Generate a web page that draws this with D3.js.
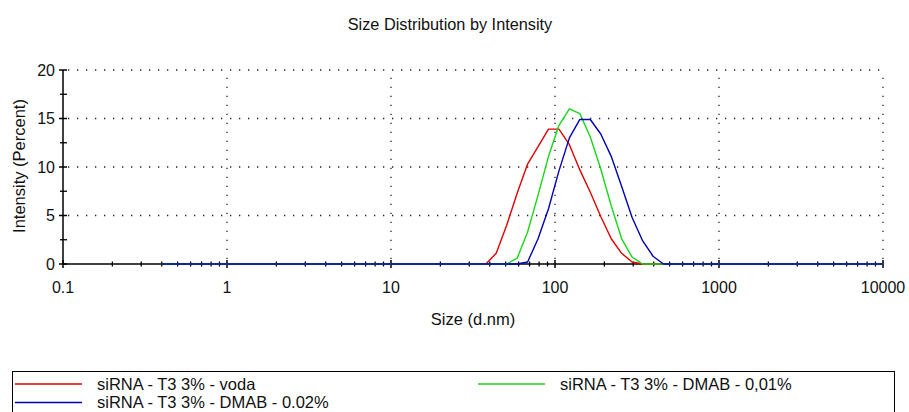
<!DOCTYPE html>
<html>
<head>
<meta charset="utf-8">
<script src="https://cdn.jsdelivr.net/npm/d3@7"></script>
<style>
  html, body { margin: 0; padding: 0; background: #fff; }
  svg { display: block; font-family: "Liberation Sans", Arial, sans-serif; }
</style>
</head>
<body>
<svg id="chart" width="909" height="412"></svg>
<script>
// Zetasizer size bins (d.nm)
const sizes = [0.4, 0.4632, 0.5365, 0.6213, 0.7195, 0.8332, 0.9649, 1.117, 1.294, 1.499,
  1.736, 2.01, 2.328, 2.696, 3.122, 3.615, 4.187, 4.849, 5.615, 6.503,
  7.531, 8.721, 10.1, 11.7, 13.54, 15.69, 18.17, 21.04, 24.36, 28.21,
  32.67, 37.84, 43.82, 50.75, 58.77, 68.06, 78.82, 91.28, 105.7, 122.4,
  141.8, 164.2, 190.1, 220.2, 255, 295.3, 342, 396.1, 458.7, 531.2,
  615.1, 712.4, 825, 955.4, 1106, 1281, 1484, 1718, 1990, 2305,
  2669, 3091, 3580, 4145, 4801, 5560, 6439, 7456, 8635, 10000];

// Intensity (%) per bin
const voda = [0,0,0,0,0,0,0,0,0,0, 0,0,0,0,0,0,0,0,0,0, 0,0,0,0,0,0,0,0,0,0,
  0, 0, 1.1, 4.0, 7.3, 10.3, 12.1, 13.9, 13.9, 12.3,
  9.7, 7.4, 4.9, 2.6, 1.1, 0.2, 0, 0, 0, 0,
  0,0,0,0,0,0,0,0,0,0, 0,0,0,0,0,0,0,0,0,0];
const dmab001 = [0,0,0,0,0,0,0,0,0,0, 0,0,0,0,0,0,0,0,0,0, 0,0,0,0,0,0,0,0,0,0,
  0, 0, 0, 0, 0.6, 3.3, 7.1, 11.1, 14.3, 16.0,
  15.5, 13.1, 9.8, 6.0, 2.6, 0.7, 0, 0, 0, 0,
  0,0,0,0,0,0,0,0,0,0, 0,0,0,0,0,0,0,0,0,0];
const dmab002 = [0,0,0,0,0,0,0,0,0,0, 0,0,0,0,0,0,0,0,0,0, 0,0,0,0,0,0,0,0,0,0,
  0, 0, 0, 0, 0, 0.2, 2.6, 5.7, 9.6, 13.0,
  14.9, 14.9, 13.4, 11.1, 8.0, 4.8, 2.4, 0.8, 0, 0,
  0,0,0,0,0,0,0,0,0,0, 0,0,0,0,0,0,0,0,0,0];

const seriesNames = ["siRNA - T3 3% - voda", "siRNA - T3 3% - DMAB - 0,01%", "siRNA - T3 3% - DMAB - 0.02%"];
const seriesColors = ["#e00000", "#19d619", "#0000b4"];
const xTicks = [0.1, 1, 10, 100, 1000, 10000];
const xTickLabels = ["0.1", "1", "10", "100", "1000", "10000"];
const yTicks = [0, 5, 10, 15, 20];
const yMinorTicks = [2.5, 7.5, 12.5, 17.5];

const svg = d3.select("#chart");
const x = d3.scaleLog().domain([0.1, 10000]).range([63, 883]);
const y = d3.scaleLinear().domain([0, 20]).range([264, 70]);

// title
svg.append("text").attr("x", 450).attr("y", 30).attr("text-anchor", "middle")
  .attr("font-size", 16.3).attr("fill", "#111").text("Size Distribution by Intensity");

// grid
const grid = svg.append("g").attr("stroke", "#222").attr("stroke-width", 1.3)
  .attr("stroke-dasharray", "1.3,7.7");
grid.selectAll("line.h").data(yTicks.filter(d => d > 0)).join("line")
  .attr("x1", x(0.1) + 5).attr("x2", x(10000)).attr("y1", d => y(d)).attr("y2", d => y(d));
grid.selectAll("line.v").data(xTicks.filter(d => d > 0.1)).join("line")
  .attr("x1", d => x(d)).attr("x2", d => x(d)).attr("y1", y(0) - 5).attr("y2", y(20));

// minor x ticks values
const xMinor = [];
for (let e = -1; e < 4; e++) for (let m = 2; m <= 9; m++) xMinor.push(m * Math.pow(10, e));

// axes
const axisG = svg.append("g").attr("stroke", "#000");
axisG.append("line").attr("x1", x(0.1)).attr("x2", x(10000)).attr("y1", y(0)).attr("y2", y(0)).attr("stroke-width", 1.5);
axisG.append("line").attr("x1", x(0.1)).attr("x2", x(0.1)).attr("y1", y(0)).attr("y2", y(20)).attr("stroke-width", 1.5);
axisG.selectAll("line.xmaj").data(xTicks).join("line")
  .attr("x1", d => x(d)).attr("x2", d => x(d)).attr("y1", y(0) - 4).attr("y2", y(0) + 4).attr("stroke-width", 1.5);
axisG.selectAll("line.xmin").data(xMinor).join("line")
  .attr("x1", d => x(d)).attr("x2", d => x(d)).attr("y1", y(0) - 2.5).attr("y2", y(0) + 2.5).attr("stroke-width", 1.3);
axisG.selectAll("line.ymaj").data(yTicks).join("line")
  .attr("x1", x(0.1) - 4).attr("x2", x(0.1) + 4).attr("y1", d => y(d)).attr("y2", d => y(d)).attr("stroke-width", 1.5);
axisG.selectAll("line.ymin").data(yMinorTicks).join("line")
  .attr("x1", x(0.1) - 3).attr("x2", x(0.1) + 4).attr("y1", d => y(d)).attr("y2", d => y(d)).attr("stroke-width", 1.3);

// tick labels
svg.append("g").selectAll("text").data(xTicks).join("text")
  .attr("x", d => x(d)).attr("y", y(0) + 29).attr("text-anchor", "middle")
  .attr("font-size", 16).attr("fill", "#111").text((d, i) => xTickLabels[i]);
svg.append("g").selectAll("text").data(yTicks).join("text")
  .attr("x", 55).attr("y", d => y(d)).attr("dy", "0.36em").attr("text-anchor", "end")
  .attr("font-size", 16).attr("fill", "#111").text(d => d);

// axis labels
svg.append("text").attr("x", 473).attr("y", 325).attr("text-anchor", "middle")
  .attr("font-size", 16.5).attr("fill", "#111").text("Size (d.nm)");
svg.append("text").attr("transform", "translate(25,166) rotate(-90)").attr("text-anchor", "middle")
  .attr("font-size", 16.5).attr("fill", "#111").text("Intensity (Percent)");

// lines
const allSeries = [voda, dmab001, dmab002];
const line = d3.line().x(d => x(d[0])).y(d => y(d[1]));
svg.append("g").selectAll("path").data(allSeries).join("path")
  .attr("d", vals => line(sizes.map((s, i) => [s, vals[i]])))
  .attr("fill", "none").attr("stroke", (d, i) => seriesColors[i]).attr("stroke-width", 1.4)
  .attr("stroke-linejoin", "round");

// legend
svg.append("rect").attr("x", 12.5).attr("y", 371.5).attr("width", 882).attr("height", 60)
  .attr("fill", "none").attr("stroke", "#000").attr("stroke-width", 1);
const legendPos = [[15, 384], [478, 384], [15, 402.5]];
const lg = svg.append("g");
legendPos.forEach((p, i) => {
  lg.append("line").attr("x1", p[0]).attr("x2", p[0] + 67).attr("y1", p[1]).attr("y2", p[1])
    .attr("stroke", seriesColors[i]).attr("stroke-width", 1.5);
  lg.append("text").attr("x", p[0] + 82).attr("y", p[1]).attr("dy", "0.36em")
    .attr("font-size", 16.5).attr("fill", "#111").text(seriesNames[i]);
});
</script>
</body>
</html>
